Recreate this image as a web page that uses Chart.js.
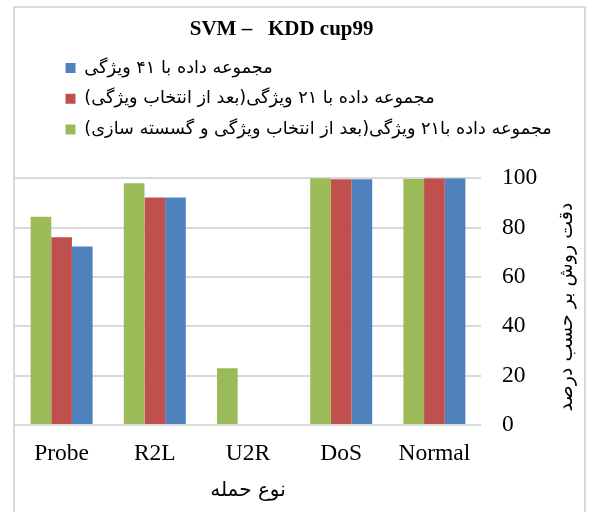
<!DOCTYPE html>
<html>
<head>
<meta charset="utf-8">
<script src="https://cdn.jsdelivr.net/npm/chart.js@4/dist/chart.umd.min.js"></script>
<style>
  html, body { margin: 0; padding: 0; background: #fff; }
  #wrap { position: relative; width: 589px; height: 512px; overflow: hidden; }
  #frame { position: absolute; left: 13px; top: 6px; width: 573px; height: 530px; border: 2px solid #d9d9d9; box-sizing: border-box; }
  canvas { position: absolute; left: 0; top: 0; }
</style>
</head>
<body>
<div id="wrap">
  <div id="frame"></div>
  <canvas id="c" width="589" height="512"></canvas>
</div>
<script>
const chartTitle = 'SVM –   KDD cup99';
const categories = ['Probe', 'R2L', 'U2R', 'DoS', 'Normal'];
const yTicks = [0, 20, 40, 60, 80, 100];
const xAxisTitle = 'نوع حمله';
const yAxisTitle = 'دقت روش بر حسب درصد';

const labelDiscretized21 = 'مجموعه داده با۲۱ ویژگی(بعد از انتخاب ویژگی و گسسته سازی)';
const labelSelected21 = 'مجموعه داده با ۲۱ ویژگی(بعد از انتخاب ویژگی)';
const labelFull41 = 'مجموعه داده با ۴۱ ویژگی';

const discretized21 = [84.4, 98.0, 23.0, 100, 99.7];
const selected21 = [76.1, 92.2, 0, 99.6, 100];
const full41 = [72.4, 92.2, 0, 99.6, 100];

const colorGreen = '#9BBB59';
const colorRed = '#C0504D';
const colorBlue = '#4F81BD';

const serif = "'Liberation Serif', 'Times New Roman', serif";
const persian = "'DejaVu Sans', sans-serif";

const shiftPlugin = {
  id: 'shiftPlugin',
  afterLayout(chart) {
    const dx = 37.5;
    chart.legend.left += dx; chart.legend.right += dx;
    const tx = -5;
    chart.titleBlock.left += tx; chart.titleBlock.right += tx;
  }
};

const yTitlePlugin = {
  id: 'yTitlePlugin',
  afterDraw(chart) {
    const ctx = chart.ctx;
    ctx.save();
    ctx.translate(567, 307);
    ctx.rotate(-Math.PI / 2);
    ctx.direction = 'rtl';
    ctx.textAlign = 'center';
    ctx.textBaseline = 'middle';
    ctx.fillStyle = '#000';
    ctx.font = '19px ' + persian;
    ctx.fillText(yAxisTitle, 0, 0);
    ctx.restore();
  }
};

Chart.defaults.font.family = serif;
Chart.defaults.color = '#000';

new Chart(document.getElementById('c'), {
  type: 'bar',
  data: {
    labels: categories,
    datasets: [
      { label: labelDiscretized21, data: discretized21, backgroundColor: colorGreen, borderWidth: 0 },
      { label: labelSelected21, data: selected21, backgroundColor: colorRed, borderWidth: 0 },
      { label: labelFull41, data: full41, backgroundColor: colorBlue, borderWidth: 0 }
    ]
  },
  options: {
    responsive: false,
    animation: false,
    devicePixelRatio: 1,
    layout: { padding: { left: 15, right: 30.75, top: 7, bottom: 9 } },
    datasets: { bar: { categoryPercentage: 0.665, barPercentage: 1.0 } },
    plugins: {
      title: {
        display: true,
        text: chartTitle,
        font: { family: serif, size: 21, weight: 'bold', lineHeight: 1.2 },
        color: '#000',
        padding: { top: 10, bottom: 4 }
      },
      subtitle: {
        display: true,
        text: '',
        weight: 500,
        font: { size: 10, lineHeight: 1 },
        padding: { top: 20, bottom: 0 }
      },
      legend: {
        display: true,
        position: 'top',
        align: 'start',
        reverse: true,
        textDirection: 'rtl',
        labels: {
          boxWidth: 10,
          boxHeight: 10,
          padding: 13,
          color: '#000',
          font: { family: persian, size: 17.7 }
        }
      },
      tooltip: { enabled: false }
    },
    scales: {
      x: {
        grid: { display: false, drawTicks: false },
        border: { display: false },
        ticks: { font: { family: serif, size: 23.5 }, padding: 14.5, color: '#000' },
        title: {
          display: true,
          text: xAxisTitle,
          font: { family: persian, size: 20 },
          color: '#000',
          padding: { top: -3.2, bottom: 0 }
        }
      },
      y: {
        position: 'right',
        min: 0,
        max: 100,
        afterBuildTicks(scale) { scale.ticks = yTicks.map(v => ({ value: v })); },
        grid: { color: '#d9d9d9', lineWidth: 2, drawTicks: false },
        border: { display: false },
        ticks: { font: { family: serif, size: 23.5 }, padding: 21, color: '#000' }
      }
    }
  },
  plugins: [shiftPlugin, yTitlePlugin]
});
</script>
</body>
</html>
